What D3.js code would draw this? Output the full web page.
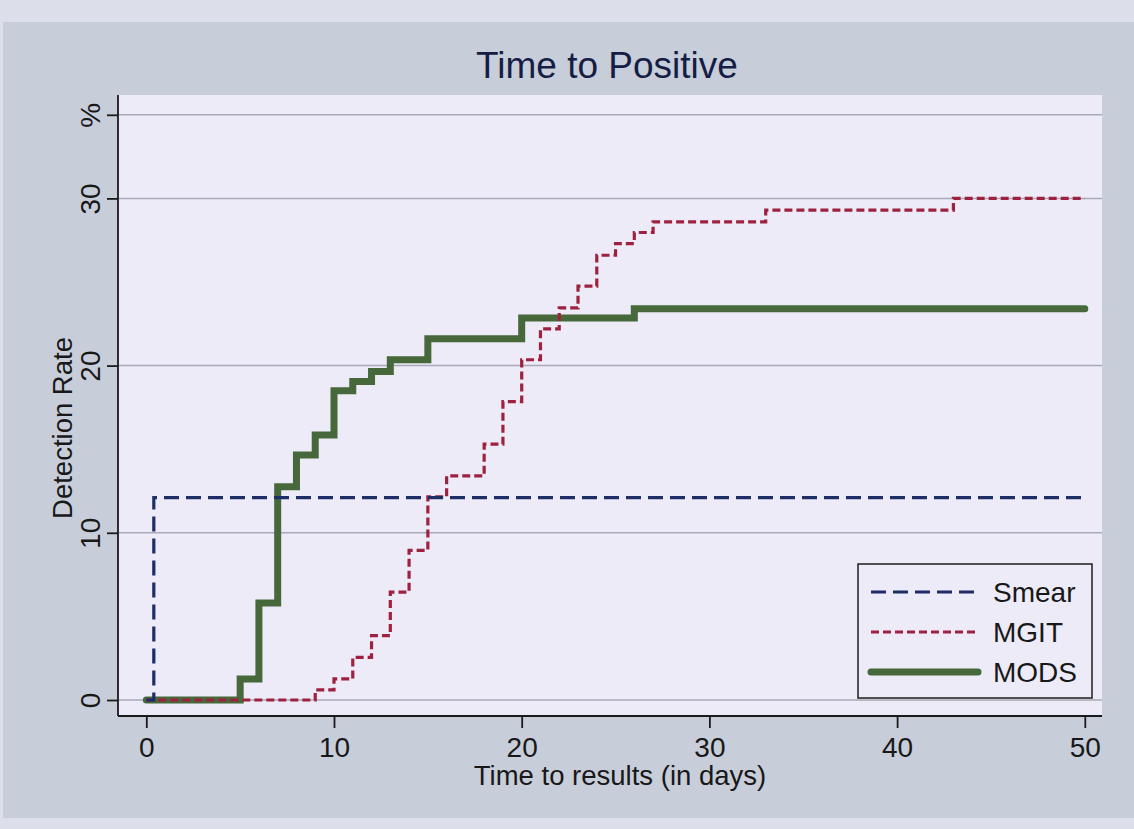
<!DOCTYPE html>
<html>
<head>
<meta charset="utf-8">
<script src="https://cdn.jsdelivr.net/npm/d3@7"></script>
<style>
    html, body { margin: 0; padding: 0; background: #dcdfea; }
    svg { display: block; }
</style>
</head>
<body>
<div id="chart"></div>
<script>
// values (days, detection rate %)
const smearDays = [0, 0.4, 50];
const smearRate = [0, 12.1, 12.1];

const mgitDays = [0, 9, 10, 11, 12, 13, 14, 15, 16, 18, 19, 20, 21, 22, 23, 24, 25, 26, 27, 33, 43, 50];
const mgitRate = [0, 0.6, 1.26, 2.55, 3.85, 6.45, 8.95, 12.15, 13.4, 15.3, 17.85, 20.35, 22.2, 23.45, 24.75, 26.6, 27.3, 27.96, 28.6, 29.3, 30.0, 30.0];

const modsDays = [0, 5, 6, 7, 8, 9, 10, 11, 12, 13, 15, 20, 26, 50];
const modsRate = [0, 1.26, 5.8, 12.75, 14.65, 15.85, 18.5, 19.05, 19.65, 20.35, 21.6, 22.85, 23.4, 23.4];

const seriesNames = ["Smear", "MGIT", "MODS"];
const xTicks = [0, 10, 20, 30, 40, 50];
const yTicks = [0, 10, 20, 30];
const yTopTick = 35;
const yTopLabel = "%";

const width = 1134;
const height = 829;
const font = "'Liberation Sans', Arial, Helvetica, sans-serif";
const textColor = "#181818";

const svg = d3.select("#chart")
    .append("svg")
    .attr("width", width)
    .attr("height", height);

// paper + grey graph region
svg.append("rect").attr("x", 0).attr("y", 0).attr("width", width).attr("height", height).attr("fill", "#dcdfea");
svg.append("rect").attr("x", 3).attr("y", 22).attr("width", width - 3).attr("height", 796).attr("fill", "#c8cdda");

const plot = { left: 118, right: 1102, top: 95, bottom: 716 };

svg.append("rect")
    .attr("x", plot.left)
    .attr("y", plot.top)
    .attr("width", plot.right - plot.left)
    .attr("height", plot.bottom - plot.top)
    .attr("fill", "#ecebf7");

let x = d3.scaleLinear().domain([0, 50]).range([146.3, 1084.8]);
let y = d3.scaleLinear().domain([0, 35]).range([700, 114.8]);

// gridlines
let gridVals = yTicks.concat([yTopTick]);
svg.append("g")
    .selectAll("line")
    .data(gridVals)
    .join("line")
    .attr("x1", plot.left)
    .attr("x2", plot.right)
    .attr("y1", d => y(d))
    .attr("y2", d => y(d))
    .attr("stroke", "#a9a9b9")
    .attr("stroke-width", 1.5);

// y axis
let yAxis = d3.axisLeft(y)
    .tickValues(gridVals)
    .tickSize(11)
    .tickPadding(6)
    .tickFormat(d => (d === yTopTick ? yTopLabel : d));

let yAxisG = svg.append("g")
    .attr("transform", `translate(${plot.left},0)`)
    .call(yAxis);
yAxisG.select(".domain").attr("d", `M0,${plot.top}V${plot.bottom}`).attr("stroke", "#1a1a1a").attr("stroke-width", 1.8);
yAxisG.selectAll(".tick line").attr("stroke", "#1a1a1a").attr("stroke-width", 1.8);
yAxisG.selectAll(".tick text")
    .attr("x", null)
    .attr("dy", null)
    .attr("text-anchor", "middle")
    .attr("transform", "translate(-18,0) rotate(-90)")
    .attr("font-family", font)
    .attr("font-size", 28)
    .attr("fill", textColor);

// x axis
let xAxis = d3.axisBottom(x)
    .tickValues(xTicks)
    .tickSize(12)
    .tickPadding(9);

let xAxisG = svg.append("g")
    .attr("transform", `translate(0,${plot.bottom})`)
    .call(xAxis);
xAxisG.select(".domain").attr("d", `M${plot.left},0H${plot.right}`).attr("stroke", "#1a1a1a").attr("stroke-width", 1.8);
xAxisG.selectAll(".tick line").attr("stroke", "#1a1a1a").attr("stroke-width", 1.8);
xAxisG.selectAll(".tick text")
    .attr("font-family", font)
    .attr("font-size", 28)
    .attr("fill", textColor);

// titles
svg.append("text")
    .attr("x", 607)
    .attr("y", 78)
    .attr("text-anchor", "middle")
    .attr("font-family", font)
    .attr("font-size", 37)
    .attr("fill", "#151d45")
    .text("Time to Positive");

svg.append("text")
    .attr("x", 620)
    .attr("y", 785)
    .attr("text-anchor", "middle")
    .attr("font-family", font)
    .attr("font-size", 27.5)
    .attr("fill", textColor)
    .text("Time to results (in days)");

svg.append("text")
    .attr("transform", "translate(72,428) rotate(-90)")
    .attr("text-anchor", "middle")
    .attr("font-family", font)
    .attr("font-size", 27.5)
    .attr("fill", textColor)
    .text("Detection Rate");

// step lines
const series = [
    { name: seriesNames[0], days: smearDays, rate: smearRate, color: "#1f2d66", width: 3.2, dash: "15 7" },
    { name: seriesNames[1], days: mgitDays, rate: mgitRate, color: "#9e2240", width: 3.2, dash: "8 4" },
    { name: seriesNames[2], days: modsDays, rate: modsRate, color: "#46683a", width: 7, dash: null }
];

let line = d3.line()
    .x(d => x(d[0]))
    .y(d => y(d[1]))
    .curve(d3.curveStepAfter);

// draw MODS first so the thin dashed lines sit on top like the original
for (let s of [series[2], series[1], series[0]]) {
    let pts = s.days.map((d, i) => [d, s.rate[i]]);
    svg.append("path")
        .attr("d", line(pts))
        .attr("fill", "none")
        .attr("stroke", s.color)
        .attr("stroke-width", s.width)
        .attr("stroke-dasharray", s.dash)
        .attr("stroke-linejoin", "miter")
        .attr("stroke-linecap", s.dash ? "butt" : "round");
}

// legend
let legend = svg.append("g").attr("transform", "translate(858,564)");
legend.append("rect")
    .attr("x", 0)
    .attr("y", 0)
    .attr("width", 234)
    .attr("height", 134)
    .attr("fill", "#ecebf7")
    .attr("stroke", "#2a2a2a")
    .attr("stroke-width", 1.6);

series.forEach((s, i) => {
    let ly = 28 + i * 40;
    legend.append("line")
        .attr("x1", 13)
        .attr("x2", 120)
        .attr("y1", ly)
        .attr("y2", ly)
        .attr("stroke", s.color)
        .attr("stroke-width", s.width)
        .attr("stroke-dasharray", s.dash)
        .attr("stroke-linecap", s.dash ? "butt" : "round");
    legend.append("text")
        .attr("x", 135)
        .attr("y", ly + 10)
        .attr("font-family", font)
        .attr("font-size", 28)
        .attr("fill", textColor)
        .text(s.name);
});
</script>
</body>
</html>
